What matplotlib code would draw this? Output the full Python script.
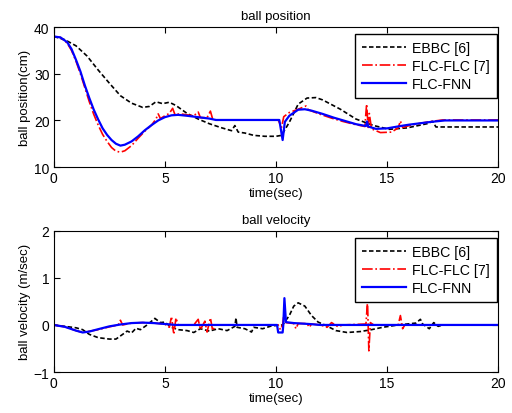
import numpy as np
import matplotlib.pyplot as plt

plt.rcParams['font.family'] = ['Liberation Sans', 'DejaVu Sans']

# ball position (cm)
ebbc_pos_t = [0, 0.5, 1.0, 1.5, 2.0, 2.5, 3.0, 3.5, 4.0, 4.3, 4.6, 4.9, 5.2, 5.5, 6.0,
              6.5, 7.0, 7.5, 8.0, 8.15, 8.3, 8.6, 9.0, 9.5, 10.0, 10.25, 10.6, 11.0,
              11.4, 11.8, 12.1, 12.5, 12.9, 13.6, 14.4, 15.1, 15.9, 16.5, 16.8, 17.05,
              17.2, 20.0]
ebbc_pos = [38.0, 37.3, 36.0, 33.8, 30.8, 28.0, 25.3, 23.7, 22.8, 23.0, 24.0, 23.6, 23.9,
            23.2, 21.5, 20.3, 19.3, 18.5, 17.8, 18.9, 17.5, 17.3, 16.8, 16.6, 16.6, 16.8,
            19.6, 23.5, 24.8, 24.9, 24.4, 23.4, 22.4, 20.3, 18.9, 18.1, 18.4, 19.0, 19.3,
            19.8, 18.6, 18.6]

flc_flc_pos_t = [0, 0.3, 0.6, 0.8, 1.0, 1.2, 1.4, 1.6, 1.8, 2.0, 2.2, 2.4, 2.6, 2.8, 3.0,
                 3.2, 3.5, 3.8, 4.1, 4.4, 4.6, 4.7, 4.8, 5.0, 5.2, 5.35, 5.45, 5.7, 6.0,
                 6.3, 6.5, 6.6, 6.9, 7.05, 7.15, 7.3, 10.1, 10.25, 10.35, 10.6, 11.0,
                 11.35, 11.45, 12.0, 12.5, 13.0, 13.5, 14.0, 14.08, 14.15, 14.2, 14.3,
                 14.7, 15.2, 15.5, 15.6, 15.7, 16.0, 16.5, 17.0, 17.5, 20.0]
flc_flc_pos = [38.0, 37.8, 36.6, 35.0, 32.7, 30.0, 27.0, 24.0, 21.3, 19.0, 17.0, 15.5,
               14.2, 13.4, 13.2, 13.5, 14.6, 16.2, 17.7, 19.0, 20.3, 21.4, 20.4, 21.0,
               21.5, 22.6, 21.3, 21.4, 21.2, 21.0, 21.8, 20.6, 20.6, 22.0, 20.3, 20.1,
               20.1, 18.5, 20.8, 21.7, 22.4, 23.1, 22.3, 21.3, 20.5, 19.8, 19.2, 18.7,
               23.5, 18.5, 21.5, 18.2, 17.4, 17.5, 18.4, 19.9, 18.5, 18.9, 19.4, 19.8,
               20.1, 20.1]

flc_fnn_pos_t = [0, 0.3, 0.6, 0.8, 1.0, 1.2, 1.4, 1.6, 1.8, 2.0, 2.2, 2.4, 2.6, 2.8, 3.0,
                 3.2, 3.5, 3.8, 4.1, 4.4, 4.7, 5.0, 5.3, 5.6, 6.0, 6.5, 7.0, 7.3, 10.15,
                 10.3, 10.4, 10.6, 11.0, 11.3, 11.6, 12.1, 12.6, 13.1, 13.6, 14.05, 14.1,
                 14.15, 14.5, 15.0, 15.6, 16.0, 16.5, 17.0, 17.6, 20.0]
flc_fnn_pos = [38.0, 37.8, 36.8, 35.3, 33.0, 30.5, 27.5, 24.8, 22.3, 20.2, 18.3, 16.9,
               15.8, 15.0, 14.6, 14.8, 15.5, 16.6, 17.9, 19.0, 20.0, 20.7, 21.1, 21.2,
               21.0, 20.7, 20.4, 20.1, 20.1, 15.8, 19.7, 21.0, 22.3, 22.4, 22.1, 21.4,
               20.6, 19.9, 19.2, 18.8, 19.8, 18.7, 18.2, 18.3, 18.8, 19.1, 19.4, 19.7,
               20.0, 20.0]

# ball velocity (m/sec)
ebbc_vel_t = [0, 0.5, 1.0, 1.3, 1.6, 2.0, 2.5, 2.8, 3.1, 3.3, 3.5, 3.7, 3.9, 4.2, 4.55,
              4.8, 5.0, 5.3, 5.6, 6.0, 6.3, 6.6, 7.0, 7.4, 7.8, 8.15, 8.2, 8.25, 8.6,
              8.9, 9.0, 9.4, 9.8, 10.3, 10.6, 10.8, 11.0, 11.3, 11.6, 11.9, 12.2, 12.7,
              13.2, 13.8, 14.3, 14.8, 15.5, 16.3, 16.5, 16.6, 16.9, 17.1, 17.3, 17.5,
              20.0]
ebbc_vel = [0.0, -0.03, -0.06, -0.1, -0.2, -0.27, -0.3, -0.3, -0.2, -0.13, -0.17, -0.07,
            -0.1, 0.0, 0.14, 0.05, 0.06, -0.05, -0.1, -0.12, -0.16, -0.08, -0.13, -0.08,
            -0.12, -0.03, 0.15, -0.05, -0.08, -0.15, -0.05, -0.08, -0.02, 0.0, 0.2, 0.4,
            0.47, 0.4, 0.2, 0.06, 0.0, -0.12, -0.16, -0.14, -0.1, -0.05, 0.0, 0.04, 0.12,
            0.02, -0.08, 0.05, -0.03, 0.0, 0.0]

flc_flc_vel_t = [0, 0.5, 1.0, 1.3, 2.0, 2.5, 2.9, 3.0, 3.1, 3.5, 4.0, 4.5, 5.0, 5.2, 5.3,
                 5.4, 5.5, 5.6, 6.3, 6.5, 6.6, 6.8, 6.9, 7.05, 7.15, 7.3, 10.1, 10.2,
                 10.3, 10.35, 10.45, 10.8, 10.9, 11.0, 11.4, 11.5, 11.6, 12.0, 12.3,
                 12.5, 12.8, 13.0, 14.05, 14.12, 14.18, 14.25, 14.4, 15.5, 15.6, 15.7,
                 15.8, 20.0]
flc_flc_vel = [0.0, -0.04, -0.12, -0.16, -0.1, -0.04, 0.0, 0.1, 0.0, 0.04, 0.05, 0.04,
               0.02, -0.05, 0.18, -0.2, 0.15, 0.0, 0.0, 0.12, -0.1, 0.08, -0.15, 0.15,
               -0.12, 0.0, 0.0, -0.1, 0.0, 0.2, 0.05, 0.03, -0.08, 0.03, 0.03, -0.05,
               0.02, 0.0, -0.05, 0.05, -0.04, 0.0, 0.02, 0.5, -0.55, 0.05, 0.0, 0.0,
               0.2, -0.08, 0.0, 0.0]

flc_fnn_vel_t = [0, 0.5, 1.0, 1.3, 1.6, 2.0, 2.5, 3.0, 3.5, 4.0, 4.5, 5.0, 5.5, 10.05,
                 10.1, 10.3, 10.33, 10.38, 10.45, 10.8, 11.5, 12.0, 20.0]
flc_fnn_vel = [0.0, -0.04, -0.12, -0.16, -0.14, -0.09, -0.03, 0.01, 0.04, 0.05, 0.04,
               0.02, 0.0, 0.0, -0.16, -0.16, 0.0, 0.57, 0.06, 0.04, 0.02, 0.0, 0.0]

labels = ['EBBC [6]', 'FLC-FLC [7]', 'FLC-FNN']

fig = plt.figure(figsize=(5.12, 4.14), dpi=100)
ax1 = fig.add_axes([0.105, 0.594, 0.868, 0.338])
ax2 = fig.add_axes([0.105, 0.099, 0.868, 0.341])


def draw(ax, series, ylim, yticks, ylabel, title):
    (t0, y0), (t1, y1), (t2, y2) = series
    ax.plot(t0, y0, color='black', linestyle=(0, (2.7, 1.5)), linewidth=1.2, label=labels[0])
    ax.plot(t1, y1, color='red', linestyle='-.', linewidth=1.2, label=labels[1])
    ax.plot(t2, y2, color='blue', linestyle='-', linewidth=1.6, label=labels[2])
    ax.set_xlim(0, 20)
    ax.set_ylim(*ylim)
    ax.set_xticks([0, 5, 10, 15, 20])
    ax.set_yticks(yticks)
    ax.tick_params(direction='in', top=True, right=True, length=4, labelsize=10, pad=3)
    ax.set_xlabel('time(sec)', fontsize=9.5, labelpad=1)
    ax.set_ylabel(ylabel, fontsize=9.5, labelpad=2)
    ax.set_title(title, fontsize=9.5, pad=6)
    leg = ax.legend(loc='upper right', bbox_to_anchor=(0.997, 0.95), borderaxespad=0,
                    fontsize=10.2, handlelength=3.1, handletextpad=0.4,
                    labelspacing=0.28, borderpad=0.5,
                    fancybox=False, framealpha=1, edgecolor='black')
    leg.get_frame().set_linewidth(1.0)


draw(ax1, [(ebbc_pos_t, ebbc_pos), (flc_flc_pos_t, flc_flc_pos), (flc_fnn_pos_t, flc_fnn_pos)],
     (10, 40), [10, 20, 30, 40], 'ball position(cm)', 'ball position')
draw(ax2, [(ebbc_vel_t, ebbc_vel), (flc_flc_vel_t, flc_flc_vel), (flc_fnn_vel_t, flc_fnn_vel)],
     (-1, 2), [-1, 0, 1, 2], 'ball velocity (m/sec)', 'ball velocity')

fig.savefig('out.png', dpi=100)
